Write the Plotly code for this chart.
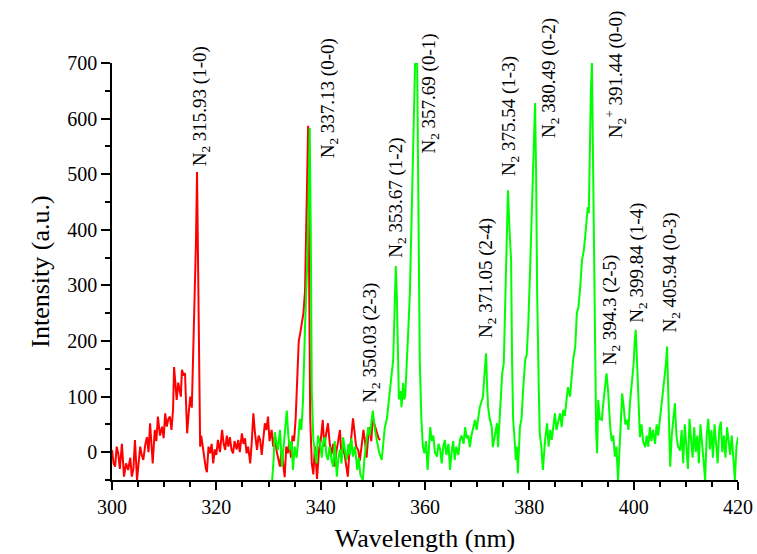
import plotly.graph_objects as go

# ---- data ----
red_x = [300.0, 300.3, 300.6, 300.9, 301.2, 301.5, 301.9, 302.3, 302.7, 303.1, 303.5, 303.8, 304.1, 304.4, 304.8,
         305.1, 305.4, 305.7, 306.0, 306.4, 306.7, 307.0, 307.3, 307.8, 308.2, 308.5, 308.8, 309.2, 309.6, 309.9,
         310.2, 310.5, 310.8, 311.1, 311.4, 311.7, 311.9, 312.1, 312.4, 312.7, 312.9, 313.2, 313.4, 313.7, 314.0,
         314.2, 314.4, 314.7, 315.0, 315.3, 315.5, 315.8, 316.1, 316.3, 316.5, 316.7, 316.9, 317.1, 317.4, 317.7,
         318.0, 318.2, 318.5, 318.8, 319.1, 319.4, 319.7, 320.0, 320.3, 320.7, 321.1, 321.4, 321.7, 322.0, 322.3,
         322.6, 322.9, 323.2, 323.5, 323.9, 324.2, 324.5, 324.9, 325.2, 325.5, 325.8, 326.1, 326.5, 326.8, 327.1,
         327.4, 327.8, 328.1, 328.4, 328.7, 329.0, 329.3, 329.6, 329.9, 330.2, 330.6, 330.9, 331.2, 331.6, 331.9,
         332.2, 332.5, 332.8, 333.1, 333.4, 333.7, 334.0, 334.3, 334.6, 334.9, 335.2, 335.5, 335.8, 336.1, 336.4,
         336.7, 337.0, 337.3, 337.6, 337.8, 338.0, 338.3, 338.6, 338.9, 339.3, 339.7, 340.0, 340.4, 340.7, 341.0,
         341.4, 341.7, 342.0, 342.4, 342.7, 343.0, 343.3, 343.7, 344.0, 344.3, 344.6, 344.9, 345.2, 345.5, 345.8,
         346.2, 346.5, 346.8, 347.2, 347.5, 347.9, 348.2, 348.5, 348.8, 349.1, 349.4, 349.7, 350.0, 350.3, 350.8,
         351.1, 351.4]
red_y = [4, -20, -26, 10, -2, -30, 15, -44, -20, -32, -10, -44, -30, 22, -50,
         -20, 10, -5, -14, 15, 27, 0, 52, -20, 40, 20, 64, 30, 46, 25,
         70, 46, 60, 64, 40, 76, 153, 130, 94, 125, 117, 100, 148, 140, 142,
         90, 34, 70, 100, 80, 150, 230, 380, 504, 330, 120, 10, 30, 4, -10,
         -30, -36, 10, -2, 15, -20, 5, -5, 22, 0, 40, 15, 4, 30, 10,
         27, 5, -2, 20, 5, 22, 0, 34, 15, 25, -2, 10, -20, 20, 70,
         35, 4, 30, 22, -5, 30, 52, 40, 64, 20, 40, 10, 27, 0, -15,
         -26, 5, -20, -45, 10, -2, 20, -10, 30, 20, 60, 120, 200, 215, 235,
         250, 290, 420, 587, 300, 60, -20, -40, 10, -48, 5, 20, 58, 10, 30,
         52, 20, -5, 15, -26, 0, 20, 40, -10, 10, -5, -30, -44, 0, 20,
         61, 30, 10, 4, -15, 15, 40, 20, -10, 27, 45, 20, 64, 50, 34,
         25, 22]

green_x = [330.7, 331.0, 331.2, 331.5, 331.8, 332.2, 332.6, 332.9, 333.2, 333.5, 333.8, 334.1, 334.4, 334.7, 335.0,
           335.4, 335.7, 336.0, 336.3, 336.6, 337.0, 337.2, 337.4, 337.7, 337.9, 338.1, 338.3, 338.6, 338.9, 339.2,
           339.5, 339.9, 340.2, 340.5, 340.8, 341.1, 341.4, 341.7, 342.1, 342.4, 342.7, 343.1, 343.4, 343.7, 344.0,
           344.3, 344.7, 345.0, 345.3, 345.6, 345.9, 346.2, 346.6, 347.0, 347.3, 347.6, 348.1, 348.4, 348.8, 349.1,
           349.4, 349.7, 350.0, 350.4, 350.8, 351.2, 351.7, 352.0, 352.3, 352.7, 353.0, 353.3, 353.6, 353.9, 354.2,
           354.4, 354.6, 354.8, 355.0, 355.3, 355.5, 355.8, 356.0, 356.2, 356.5, 356.8, 357.1, 357.4, 357.7, 357.9,
           358.1, 358.5, 358.7, 359.0, 359.3, 359.6, 359.9, 360.2, 360.5, 360.8, 361.0, 361.3, 361.6, 361.9, 362.3,
           362.6, 362.9, 363.2, 363.5, 363.8, 364.1, 364.5, 364.8, 365.1, 365.4, 365.7, 366.0, 366.4, 366.7, 367.0,
           367.4, 367.7, 368.0, 368.3, 368.6, 368.9, 369.3, 369.6, 369.9, 370.2, 370.5, 370.8, 371.1, 371.4, 371.7,
           371.9, 372.1, 372.4, 372.8, 373.0, 373.4, 373.8, 374.0, 374.4, 374.8, 375.1, 375.3, 375.6, 375.9, 376.2,
           376.5, 376.7, 376.9, 377.2, 377.4, 377.6, 377.8, 378.2, 378.5, 378.8, 379.2, 379.5, 379.8, 380.1, 380.4,
           380.7, 381.1, 381.3, 381.5, 381.8, 382.0, 382.3, 382.6, 383.0, 383.4, 383.7, 384.0, 384.3, 384.6, 384.9,
           385.2, 385.6, 385.9, 386.2, 386.5, 386.8, 387.1, 387.4, 387.8, 388.1, 388.4, 388.8, 389.1, 389.4, 389.7,
           390.1, 390.4, 390.7, 391.0, 391.2, 391.4, 391.6, 391.8, 392.0, 392.2, 392.4, 392.6, 392.8, 393.0, 393.2,
           393.5, 393.9, 394.2, 394.5, 394.8, 395.1, 395.5, 395.8, 396.1, 396.4, 396.7, 397.0, 397.3, 397.5, 397.8,
           398.1, 398.4, 398.7, 399.0, 399.3, 399.7, 400.0, 400.2, 400.4, 400.7, 401.0, 401.2, 401.5, 401.8, 402.2,
           402.5, 402.8, 403.1, 403.4, 403.7, 404.1, 404.4, 404.7, 405.0, 405.3, 405.6, 405.9, 406.2, 406.4, 406.6,
           406.8, 407.0, 407.3, 407.6, 407.9, 408.2, 408.5, 408.9, 409.2, 409.5, 409.8, 410.1, 410.4, 410.7, 411.0,
           411.3, 411.6, 411.9, 412.2, 412.5, 412.8, 413.1, 413.4, 413.7, 414.0, 414.3, 414.6, 414.9, 415.2, 415.5,
           415.8, 416.1, 416.4, 416.7, 417.0, 417.3, 417.6, 417.9, 418.2, 418.5, 418.8, 419.1, 419.4, 419.7, 420.0]
green_y = [-50, -10, 36, 20, 4, 40, -26, 10, 50, 75, 30, 4, 20, -32, 10,
           -10, 22, 60, 40, 90, 225, 280, 333, 465, 583, 400, 106, 22, 4, -20,
           30, 15, -10, 20, 27, -5, -14, 10, -15, -26, 20, -44, -10, 5, -20,
           27, 0, -14, 15, -5, 25, -8, 10, -32, -10, -40, -50, -10, 20, 45,
           30, 50, 75, 40, 22, 0, -14, 10, 45, 60, 90, 110, 140, 165, 270,
           335, 280, 140, 95, 110, 81, 125, 95, 100, 150, 220, 286, 400, 520, 585,
           700, 700, 450, 165, 60, 9, -2, 20, -32, 10, 45, 20, 30, 0, -8,
           15, 5, -20, 10, 22, -5, 15, -32, 0, 20, -14, 10, -5, 22, 30,
           15, 45, 25, 30, 9, 30, 50, 58, 40, 65, 81, 90, 99, 140, 178,
           120, 81, 60, 45, 9, 30, 52, 9, 80, 142, 160, 238, 350, 471, 400,
           346, 160, 58, 20, -14, 10, -38, 45, 60, 110, 166, 175, 230, 315, 420,
           525, 628, 500, 286, 120, 34, 10, -32, 20, 52, 10, 40, 22, 50, 70,
           40, 60, 70, 45, 76, 65, 90, 117, 100, 140, 166, 190, 250, 260, 290,
           346, 360, 387, 420, 441, 430, 556, 650, 700, 525, 300, 166, 40, -2, 94,
           60, 58, 90, 120, 142, 110, 45, 20, 30, -8, 10, -50, 20, 60, 106,
           80, 50, 58, 40, 90, 135, 160, 200, 220, 150, 60, 27, 50, 20, 9,
           30, 10, 45, 20, 40, 15, 50, 30, 58, 80, 106, 130, 160, 190, 120,
           20, -26, 30, 60, 88, 30, 10, 3, 40, -20, 50, 10, -30, 60, 20,
           -10, 45, 0, 30, -20, 50, 10, -15, -50, 30, 60, 5, 40, -10, 50,
           20, -20, 40, 55, 0, 30, -10, 45, 20, -5, 30, -20, -50, 10, 27]

label_text = [
    "N<sub>2</sub> 315.93 (1-0)",
    "N<sub>2</sub> 337.13 (0-0)",
    "N<sub>2</sub> 350.03 (2-3)",
    "N<sub>2</sub> 353.67 (1-2)",
    "N<sub>2</sub> 357.69 (0-1)",
    "N<sub>2</sub> 371.05 (2-4)",
    "N<sub>2</sub> 375.54 (1-3)",
    "N<sub>2</sub> 380.49 (0-2)",
    "N<sub>2</sub><sup>+</sup> 391.44 (0-0)",
    "N<sub>2</sub> 394.3 (2-5)",
    "N<sub>2</sub> 399.84 (1-4)",
    "N<sub>2</sub> 405.94 (0-3)",
]
label_x = [317.1, 341.6, 349.6, 354.6, 361.0, 371.9, 376.3, 384.1, 396.4, 395.6, 400.8, 407.1]
label_y = [511, 525, 85, 346, 534, 202, 493, 561, 561, 153, 229, 211]

x_ticks = [300, 320, 340, 360, 380, 400, 420]
y_ticks = [0, 100, 200, 300, 400, 500, 600, 700]

FONT = "Times New Roman"
TICK_FONT = dict(family=FONT, size=20, color="black")
TITLE_FONT = dict(family=FONT, size=26, color="black")
LABEL_FONT = dict(family=FONT, size=19, color="black")

fig = go.Figure()
fig.add_trace(go.Scatter(x=red_x, y=red_y, mode="lines",
                         line=dict(color="#ff0000", width=2), showlegend=False))
fig.add_trace(go.Scatter(x=green_x, y=green_y, mode="lines",
                         line=dict(color="#00ff00", width=2), showlegend=False))

for t, lx, ly in zip(label_text, label_x, label_y):
    fig.add_annotation(x=lx, y=ly, xref="x", yref="y", text=t, textangle=-90,
                       showarrow=False, xanchor="center", yanchor="bottom",
                       font=LABEL_FONT)

fig.update_xaxes(range=[300, 420], tickvals=x_ticks, ticklen=8, automargin=False,
                 ticklabeloverflow="allow",
                 showline=True, linecolor="black", linewidth=1.5, ticks="outside",
                 tickcolor="black", tickwidth=1.5, showgrid=False, zeroline=False,
                 tickfont=TICK_FONT,
                 minor=dict(ticks="outside", ticklen=5, dtick=5, tick0=300, tickcolor="black", tickwidth=1.5, showgrid=False),
                 title=dict(text="Wavelength (nm)", font=TITLE_FONT, standoff=12))
fig.update_yaxes(range=[-50, 700], tickvals=y_ticks, ticklen=9, automargin=False,
                 showline=True, linecolor="black", linewidth=1.5, ticks="outside",
                 tickcolor="black", tickwidth=1.5, showgrid=False, zeroline=False,
                 tickfont=TICK_FONT,
                 minor=dict(ticks="outside", ticklen=5, dtick=50, tick0=0, tickcolor="black", tickwidth=1.5, showgrid=False),
                 title=dict(text="Intensity (a.u.)", font=TITLE_FONT, standoff=10))

fig.update_layout(width=757, height=554, margin=dict(l=112, r=19, t=63, b=74),
                  plot_bgcolor="white", paper_bgcolor="white",
                  font=dict(family=FONT, size=20, color="black"))

# remove the default 8 px page margin so the 757 x 554 figure fills the window exactly
fig.write_html("out.html", config={"displayModeBar": False},
               post_script="document.body.style.margin='0px';document.body.style.overflow='hidden';")
